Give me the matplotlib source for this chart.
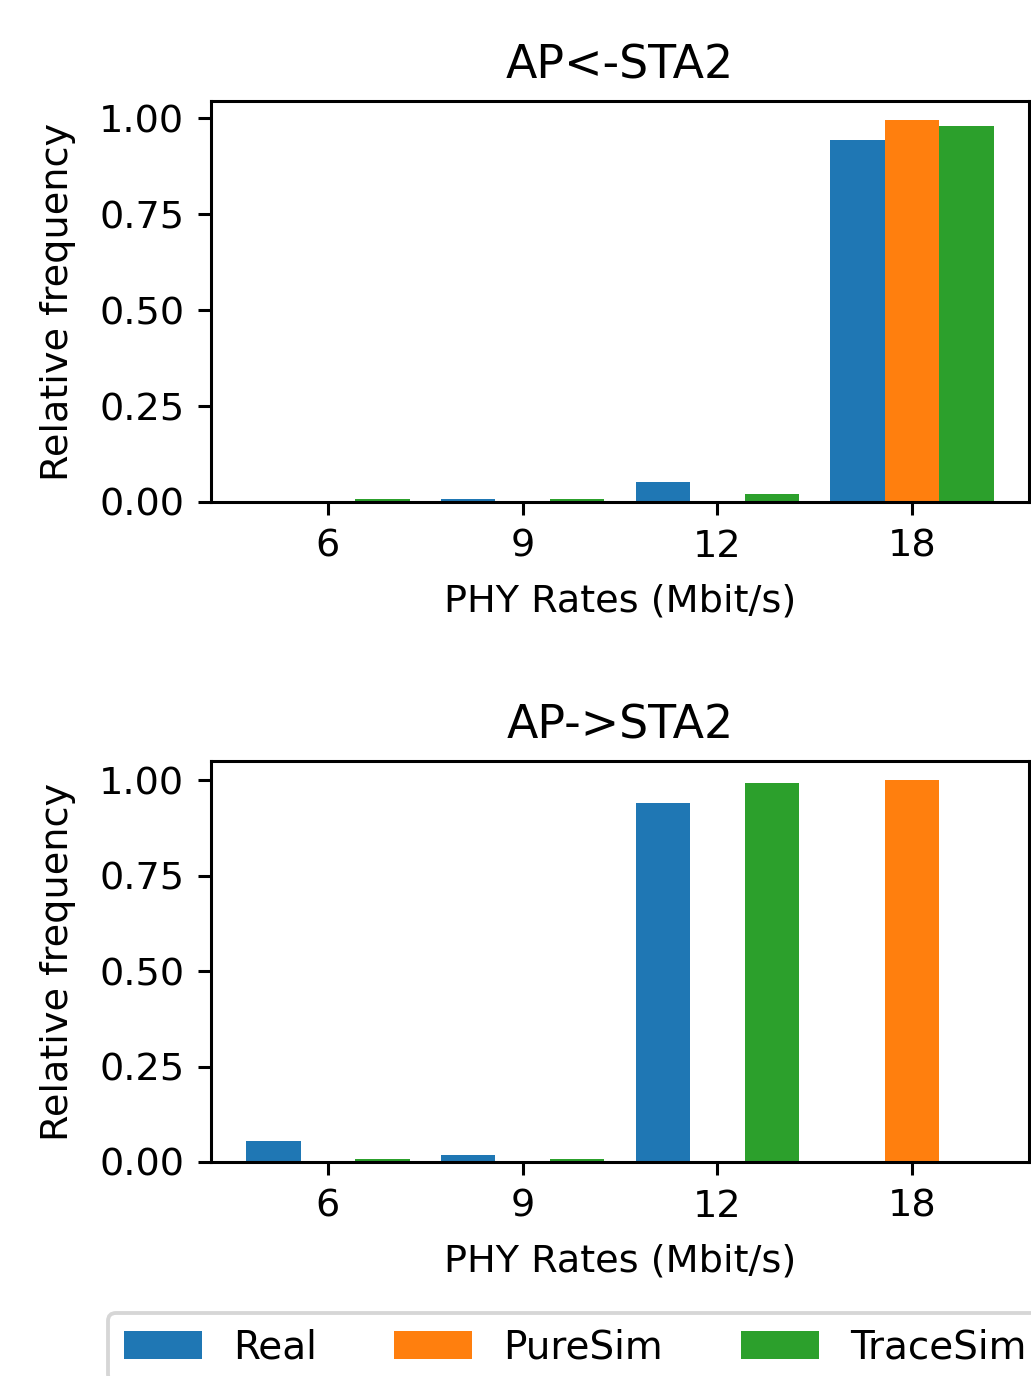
import matplotlib
matplotlib.use("Agg")
import matplotlib.pyplot as plt
import numpy as np

rates = ["6", "9", "12", "18"]
series = ["Real", "PureSim", "TraceSim"]
colors = ["#1f77b4", "#ff7f0e", "#2ca02c"]

# AP<-STA2
up_real = [0.0, 0.008, 0.053, 0.943]
up_pure = [0.0, 0.0, 0.0, 0.995]
up_trace = [0.008, 0.008, 0.022, 0.980]

# AP->STA2
down_real = [0.055, 0.018, 0.940, 0.0]
down_pure = [0.0, 0.0, 0.0, 1.0]
down_trace = [0.008, 0.008, 0.993, 0.0]

dpi = 275
fig = plt.figure(figsize=(1031 / dpi, 1376 / dpi), dpi=dpi)

ax1 = fig.add_axes([211 / 1031, 1 - 502 / 1376, 818 / 1031, 401 / 1376])
ax2 = fig.add_axes([211 / 1031, 1 - 1162 / 1376, 818 / 1031, 401 / 1376])

x = np.arange(len(rates))
w = 0.28

def draw(ax, real, pure, trace, title):
    ax.bar(x - w, real, w, color=colors[0], label=series[0])
    ax.bar(x, pure, w, color=colors[1], label=series[1])
    ax.bar(x + w, trace, w, color=colors[2], label=series[2])
    ax.set_xticks(x)
    ax.set_xticklabels(rates)
    ax.set_xlim(-0.6, 3.6)
    ax.set_xlabel("PHY Rates (Mbit/s)", labelpad=5)
    ax.set_ylabel("Relative frequency", labelpad=6)
    ax.set_title(title)

draw(ax1, up_real, up_pure, up_trace, "AP<-STA2")
draw(ax2, down_real, down_pure, down_trace, "AP->STA2")

# legend sits below the lower plot and runs off the right edge, like the original
fig.legend(*ax2.get_legend_handles_labels(), ncol=3, loc="upper left",
           bbox_to_anchor=(108 / 1031, 1 - 1313 / 1376), borderaxespad=0,
           fontsize=10.2)

fig.savefig("out.png", dpi=dpi)
